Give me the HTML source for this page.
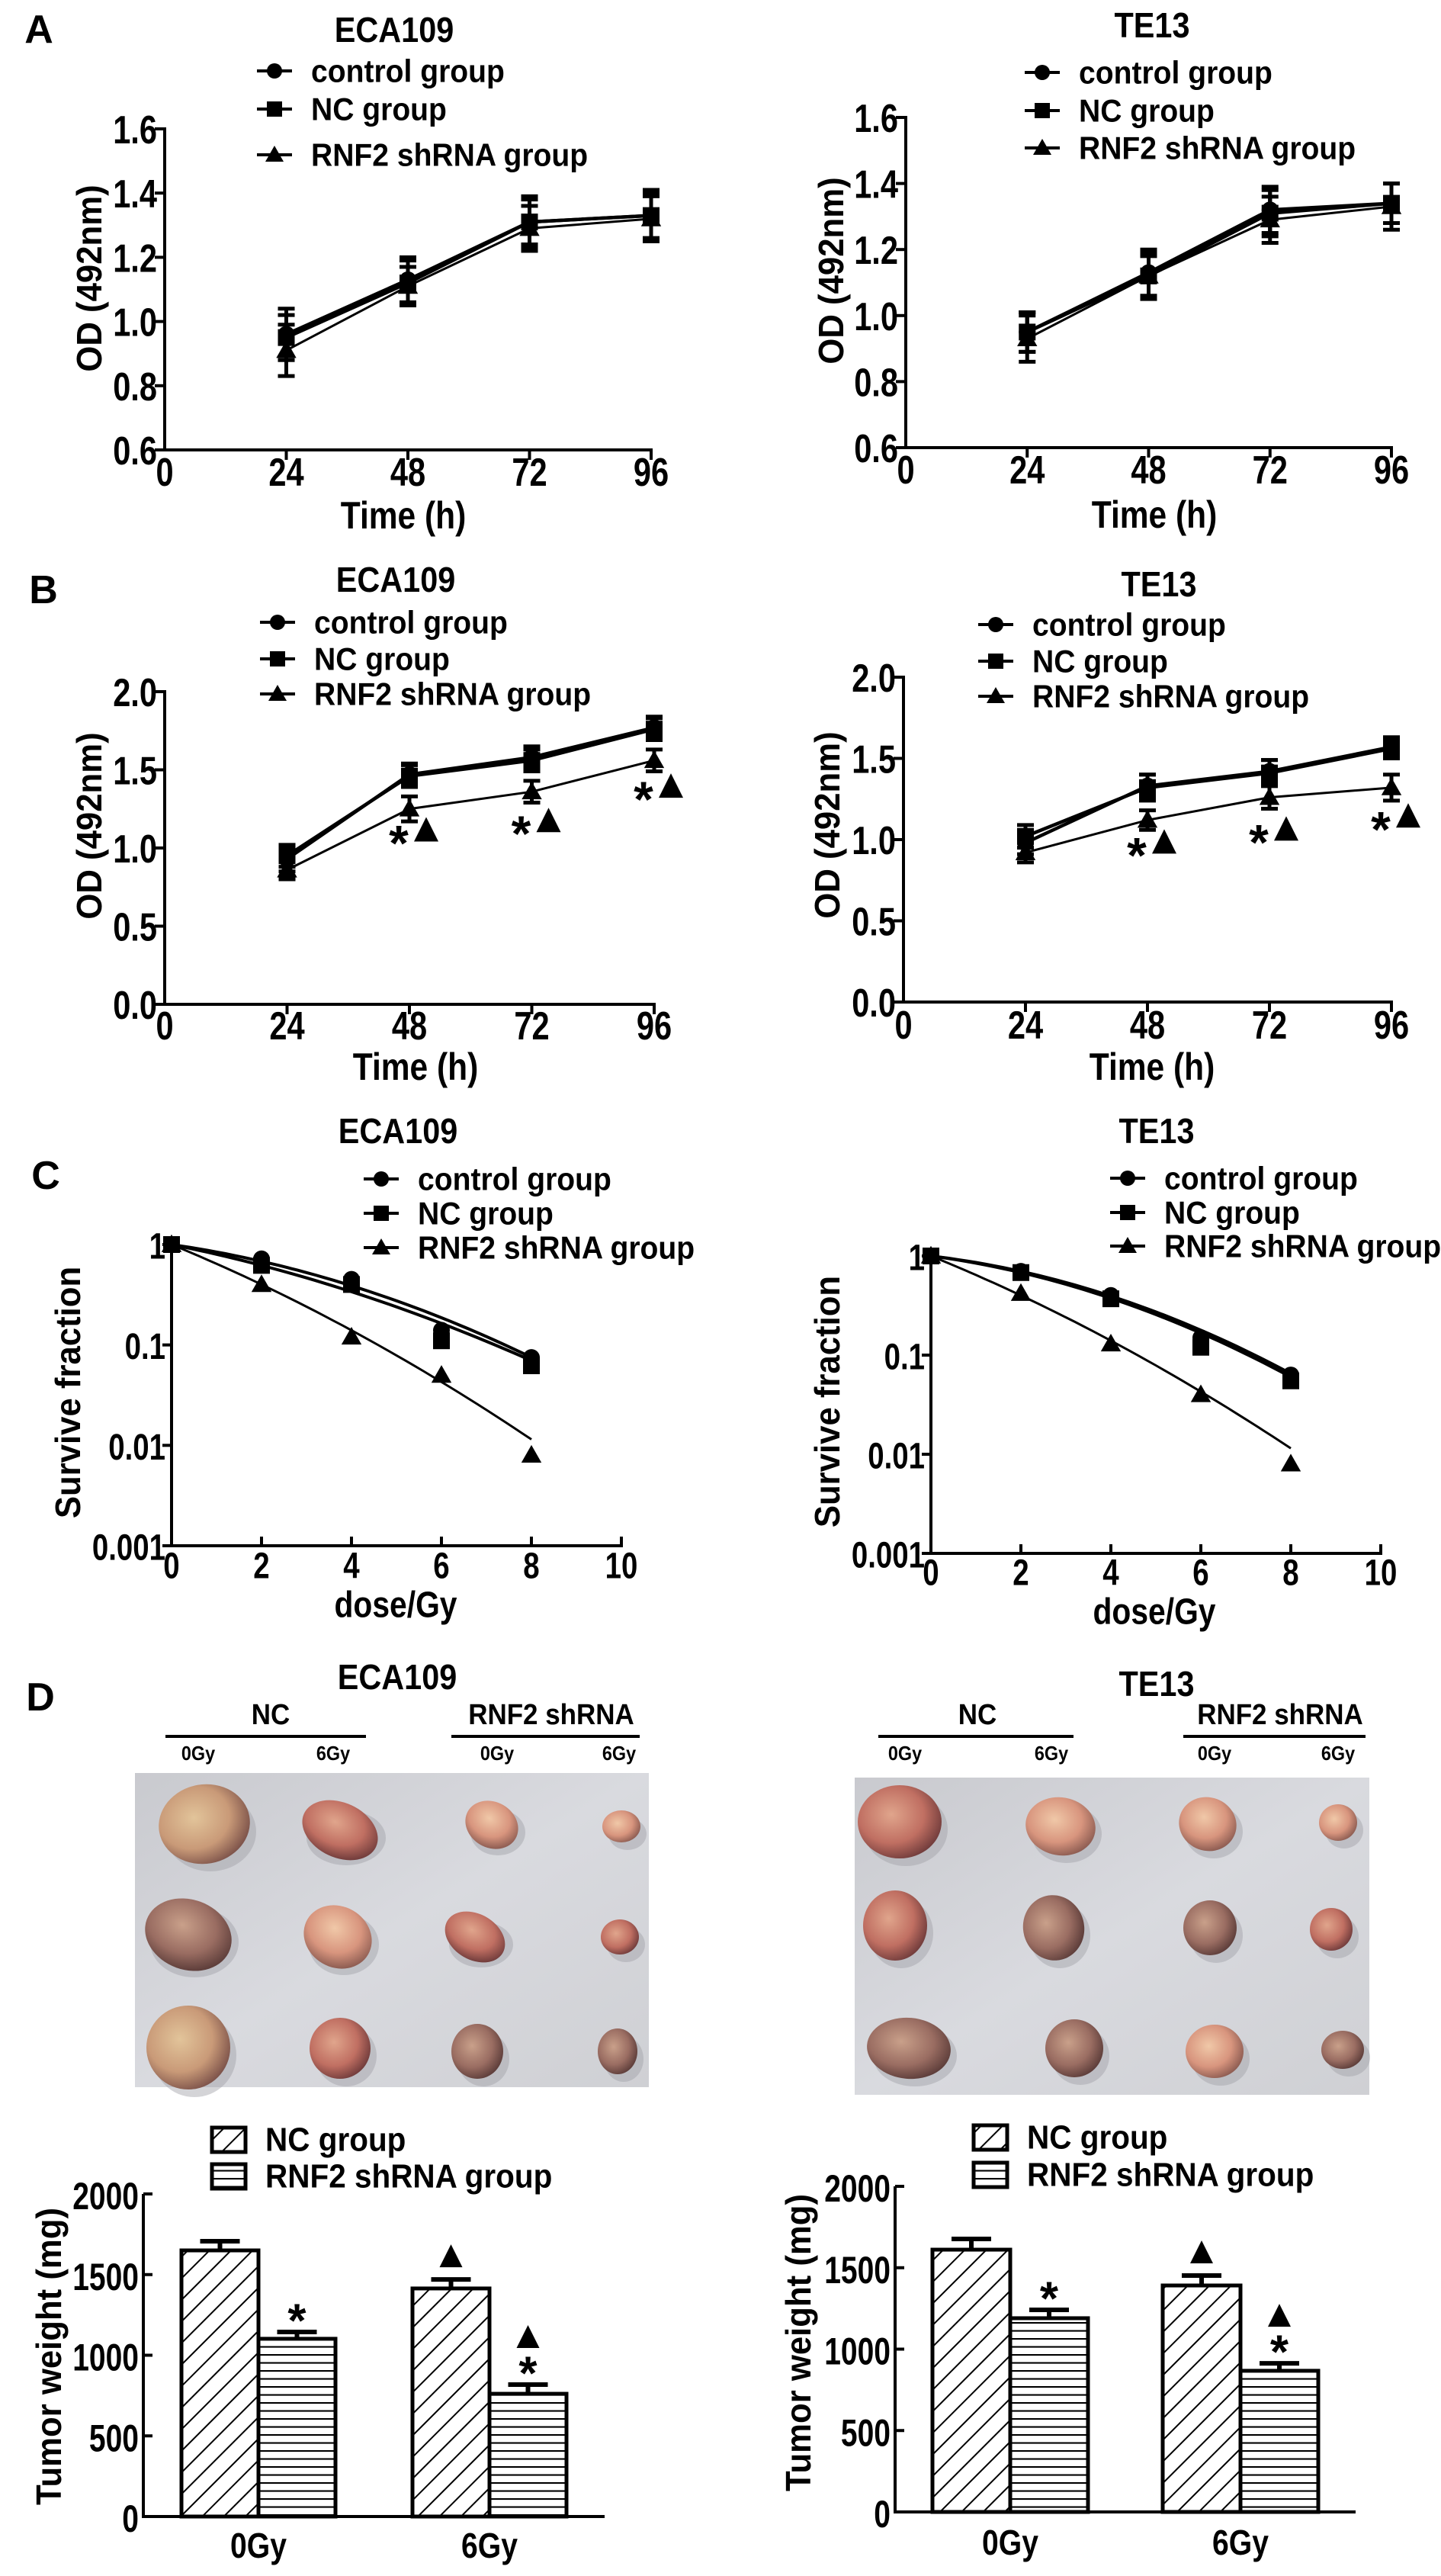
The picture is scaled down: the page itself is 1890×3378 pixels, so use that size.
<!DOCTYPE html>
<html><head><meta charset="utf-8"><style>
html,body{margin:0;padding:0;background:#fff;}
svg{display:block;}
text{font-family:"Liberation Sans",Arial,sans-serif;font-weight:bold;fill:#000;}
</style></head><body>
<svg id="fig" xmlns="http://www.w3.org/2000/svg" width="1890" height="3378" viewBox="0 0 1890 3378">
<defs>
<pattern id="hatchDiag" patternUnits="userSpaceOnUse" width="20" height="20" patternTransform="rotate(45)"><rect width="20" height="20" fill="#fff"/><line x1="0" y1="0" x2="0" y2="20" stroke="#000" stroke-width="4"/></pattern>
<pattern id="hatchHoriz" patternUnits="userSpaceOnUse" width="10" height="10.5"><rect width="10" height="10.5" fill="#fff"/><line x1="0" y1="1" x2="10" y2="1" stroke="#000" stroke-width="2.2"/></pattern>
<linearGradient id="photoBg" x1="0" y1="0" x2="1" y2="1"><stop offset="0" stop-color="#c9cacf"/><stop offset="0.5" stop-color="#d9dadf"/><stop offset="1" stop-color="#cfd0d4"/></linearGradient>
<radialGradient id="tTan" cx="0.4" cy="0.4" r="0.65"><stop offset="0" stop-color="#e2c49a"/><stop offset="0.6" stop-color="#c99a78"/><stop offset="1" stop-color="#7a5048"/></radialGradient>
<radialGradient id="tRed" cx="0.4" cy="0.4" r="0.65"><stop offset="0" stop-color="#e0a58c"/><stop offset="0.6" stop-color="#c06f62"/><stop offset="1" stop-color="#6e3a3a"/></radialGradient>
<radialGradient id="tBrown" cx="0.4" cy="0.4" r="0.65"><stop offset="0" stop-color="#c9a08a"/><stop offset="0.6" stop-color="#9a6d62"/><stop offset="1" stop-color="#5a3b38"/></radialGradient>
<radialGradient id="tPink" cx="0.4" cy="0.4" r="0.65"><stop offset="0" stop-color="#f0c8a8"/><stop offset="0.6" stop-color="#d8957e"/><stop offset="1" stop-color="#8a5a50"/></radialGradient>
</defs>
</svg>
<script>
// ---------- DATA ----------
const timeCats = [24, 48, 72, 96];
const timeTickVals = [0, 24, 48, 72, 96];
const timeTickLabels = ['0', '24', '48', '72', '96'];
const aTickVals = [0.6, 0.8, 1.0, 1.2, 1.4, 1.6];
const aTickLabels = ['0.6', '0.8', '1.0', '1.2', '1.4', '1.6'];
const bTickVals = [0, 0.5, 1.0, 1.5, 2.0];
const bTickLabels = ['0.0', '0.5', '1.0', '1.5', '2.0'];
const seriesNames = ['control group', 'NC group', 'RNF2 shRNA group'];

const aEcaControl = [0.96, 1.13, 1.31, 1.33];
const aEcaNC = [0.95, 1.12, 1.31, 1.33];
const aEcaSh = [0.91, 1.11, 1.29, 1.32];
const aEcaControlErr = [0.08, 0.07, 0.07, 0.08];
const aEcaNCErr = [0.07, 0.07, 0.08, 0.07];
const aEcaShErr = [0.08, 0.06, 0.07, 0.07];

const aTeControl = [0.95, 1.13, 1.32, 1.34];
const aTeNC = [0.95, 1.12, 1.31, 1.34];
const aTeSh = [0.93, 1.12, 1.29, 1.33];
const aTeControlErr = [0.06, 0.07, 0.07, 0.06];
const aTeNCErr = [0.06, 0.07, 0.07, 0.06];
const aTeShErr = [0.07, 0.06, 0.07, 0.07];

const bEcaControl = [0.93, 1.47, 1.58, 1.77];
const bEcaNC = [0.95, 1.46, 1.56, 1.76];
const bEcaSh = [0.86, 1.25, 1.36, 1.56];
const bEcaControlErr = [0.08, 0.07, 0.07, 0.07];
const bEcaNCErr = [0.07, 0.07, 0.07, 0.07];
const bEcaShErr = [0.06, 0.08, 0.07, 0.07];
const bEcaAnnotY = [1.10, 1.16, 1.38];

const bTeControl = [0.98, 1.33, 1.42, 1.57];
const bTeNC = [1.02, 1.32, 1.41, 1.56];
const bTeSh = [0.92, 1.12, 1.26, 1.32];
const bTeControlErr = [0.07, 0.07, 0.07, 0.06];
const bTeNCErr = [0.07, 0.08, 0.08, 0.06];
const bTeShErr = [0.06, 0.06, 0.07, 0.08];
const bTeAnnotY = [0.97, 1.05, 1.13];
const annotTimes = [48, 72, 96];

const doses = [0, 2, 4, 6, 8];
const doseTickVals = [0, 2, 4, 6, 8, 10];
const doseTickLabels = ['0', '2', '4', '6', '8', '10'];
const logTickVals = [1, 0.1, 0.01, 0.001];
const logTickLabels = ['1', '0.1', '0.01', '0.001'];
const cEcaControl = [1, 0.72, 0.45, 0.14, 0.075];
const cEcaNC = [1, 0.62, 0.40, 0.11, 0.062];
const cEcaSh = [1, 0.40, 0.12, 0.05, 0.008];
const cEcaAlpha = [0.149, 0.208, 0.425];
const cEcaBeta = [0.0218, 0.0156, 0.0167];
const cTeControl = [1, 0.70, 0.40, 0.15, 0.063];
const cTeNC = [1, 0.68, 0.37, 0.12, 0.055];
const cTeSh = [1, 0.42, 0.13, 0.04, 0.008];
const cTeAlpha = [0.124, 0.140, 0.425];
const cTeBeta = [0.0272, 0.0264, 0.0167];

const barCats = ['0Gy', '6Gy'];
const barTickVals = [0, 500, 1000, 1500, 2000];
const barTickLabels = ['0', '500', '1000', '1500', '2000'];
const dEcaNC = [1650, 1414];
const dEcaNCErr = [57, 56];
const dEcaSh = [1102, 761];
const dEcaShErr = [42, 57];
const dTeNC = [1611, 1391];
const dTeNCErr = [66, 61];
const dTeSh = [1190, 867];
const dTeShErr = [51, 46];

// ---------- HELPERS ----------
const NS = 'http://www.w3.org/2000/svg';
const svg = document.getElementById('fig');
function mk(tag, a, parent) {
  const e = document.createElementNS(NS, tag);
  for (const k in a) e.setAttribute(k, a[k]);
  (parent || svg).appendChild(e);
  return e;
}
function txt(s, x, y, fs, anchor, parent, narrowF) {
  const e = mk('text', {x: x, y: y, 'font-size': fs, 'text-anchor': anchor || 'start', 'dominant-baseline': 'central'}, parent);
  e.textContent = s;
  if (narrowF && narrowF !== 1) {
    const w = e.getComputedTextLength();
    if (w > 0) { e.setAttribute('textLength', (w * narrowF).toFixed(1)); e.setAttribute('lengthAdjust', 'spacingAndGlyphs'); }
  }
  return e;
}
function marker(kind, x, y, s, parent) {
  let e;
  if (kind === 0) e = mk('circle', {cx: x, cy: y, r: s * 0.5, fill: '#000'}, parent);
  else if (kind === 1) e = mk('rect', {x: x - s * 0.5, y: y - s * 0.5, width: s, height: s, fill: '#000'}, parent);
  else e = mk('polygon', {points: `${x},${y - s * 0.6} ${x - s * 0.6},${y + s * 0.45} ${x + s * 0.6},${y + s * 0.45}`, fill: '#000'}, parent);
  return e;
}
function legend(x, ys, names, parent, fs) {
  names.forEach((n, i) => {
    const ln = mk('line', {x1: x - 23, y1: ys[i], x2: x + 23, y2: ys[i], stroke: '#000', 'stroke-width': 4}, parent);
    
    
    const m = marker(i, x, ys[i], 20, parent);
    
    
    const t = txt(n, x + 48, ys[i], fs || 42, 'start', parent, 0.93);
    
    
  });
}

function lineChart(c) {
  const g = mk('g', {});
  
  
  const sx = t => c.ax + t / 96 * (c.x96 - c.ax);
  const sy = v => c.yBot - (v - c.yMin) / (c.yMax - c.yMin) * (c.yBot - c.yTop);
  const t1 = txt(c.title, c.titleX, c.titleY, 46, 'middle', g, 0.9);
  
  
  legend(c.legX, c.legY, c.legNames || seriesNames, g);
  const ya = mk('line', {x1: c.ax, y1: c.yTop - 2, x2: c.ax, y2: c.yBot, stroke: '#000', 'stroke-width': 4}, g);
  
  
  const xa = mk('line', {x1: c.ax - 2, y1: c.yBot, x2: c.x96 + 2, y2: c.yBot, stroke: '#000', 'stroke-width': 4}, g);
  
  
  c.yTicks.forEach((v, i) => {
    const tk = mk('line', {x1: c.ax - 13, y1: sy(v), x2: c.ax, y2: sy(v), stroke: '#000', 'stroke-width': 4}, g);
    
    
    const tl = txt(c.yLabels[i], c.ax - 10, sy(v) + 2, 52, 'end', g, 0.8);
    
    
  });
  timeTickVals.forEach((v, i) => {
    if (v > 0) {
      const tk = mk('line', {x1: sx(v), y1: c.yBot, x2: sx(v), y2: c.yBot + 13, stroke: '#000', 'stroke-width': 4}, g);
      
      
    }
    const tl = txt(timeTickLabels[i], sx(v), c.xLabY, 52, 'middle', g, 0.8);
    
    
  });
  const xt = txt('Time  (h)', c.xTitleX, c.xTitleY, 50, 'middle', g, 0.85);
  
  
  const yt = txt('OD  (492nm)', c.yTitleX, c.yTitleY, 46, 'middle', g, 0.95);
  yt.setAttribute('transform', `rotate(-90 ${c.yTitleX} ${c.yTitleY})`);
  
  
  c.series.forEach((s, si) => {
    const pts = timeCats.map((t, i) => `${sx(t)},${sy(s.vals[i])}`).join(' ');
    const pl = mk('polyline', {points: pts, fill: 'none', stroke: '#000', 'stroke-width': si === 2 ? 3 : 4.5}, g);
    
    
    timeCats.forEach((t, i) => {
      const x = sx(t), y1 = sy(s.vals[i] + s.errs[i]), y2 = sy(s.vals[i] - s.errs[i]);
      const eb = mk('path', {d: `M${x},${y1}V${y2}M${x - 11},${y1}H${x + 11}M${x - 11},${y2}H${x + 11}`, stroke: '#000', 'stroke-width': 5, fill: 'none'}, g);
      
      
      const m = marker(si, x, sy(s.vals[i]), 22, g);
      
      
    });
  });
  if (c.annotY) {
    c.annotY.forEach((v, i) => {
      const x = sx(annotTimes[i]), y = sy(v);
      const st = txt('*', x - 14, y + 14, 66, 'middle', g);
      
      
      const tr = mk('polygon', {points: `${x + 22},${y - 20} ${x + 6},${y + 12} ${x + 38},${y + 12}`, fill: '#000'}, g);
      
      
    });
  }
}

function logChart(c) {
  const g = mk('g', {});
  
  
  const sx = d => c.ax + d / 10 * (c.x10 - c.ax);
  const sy = v => c.y1 + (-Math.log10(v)) / 3 * (c.yBot - c.y1);
  const t1 = txt(c.title, c.titleX, c.titleY, 46, 'middle', g, 0.9);
  
  
  legend(c.legX, c.legY, seriesNames, g);
  const ya = mk('line', {x1: c.ax, y1: c.y1, x2: c.ax, y2: c.yBot, stroke: '#000', 'stroke-width': 4}, g);
  
  
  const xa = mk('line', {x1: c.ax - 2, y1: c.yBot, x2: c.x10 + 2, y2: c.yBot, stroke: '#000', 'stroke-width': 4}, g);
  
  
  logTickVals.forEach((v, i) => {
    const tk = mk('line', {x1: c.ax - 12, y1: sy(v), x2: c.ax, y2: sy(v), stroke: '#000', 'stroke-width': 4}, g);
    
    
    const tl = txt(logTickLabels[i], c.ax - 8, sy(v) + 3, 48, 'end', g, 0.8);
    
    
  });
  doseTickVals.forEach((v, i) => {
    if (v > 0) {
      const tk = mk('line', {x1: sx(v), y1: c.yBot - 12, x2: sx(v), y2: c.yBot, stroke: '#000', 'stroke-width': 4}, g);
      
      
    }
    const tl = txt(doseTickLabels[i], sx(v), c.xLabY, 48, 'middle', g, 0.8);
    
    
  });
  const xt = txt('dose/Gy', c.xTitleX, c.xTitleY, 48, 'middle', g, 0.85);
  
  
  const yt = txt('Survive fraction', c.yTitleX, c.yTitleY, 46, 'middle', g, 0.95);
  yt.setAttribute('transform', `rotate(-90 ${c.yTitleX} ${c.yTitleY})`);
  
  
  c.series.forEach((s, si) => {
    let d = '';
    for (let k = 0; k <= 40; k++) {
      const dose = k * 0.2;
      const v = Math.exp(-(c.alpha[si] * dose + c.beta[si] * dose * dose));
      d += (k ? 'L' : 'M') + sx(dose).toFixed(1) + ',' + sy(v).toFixed(1);
    }
    const fit = mk('path', {d: d, fill: 'none', stroke: '#000', 'stroke-width': si === 2 ? 3 : 4}, g);
    
    
    doses.forEach((dv, i) => {
      const m = marker(si, sx(dv), sy(s[i]), 22, g);
      
      
    });
  });
}

function barChart(c) {
  const g = mk('g', {});
  
  
  const sy = v => c.yBot - v / 2000 * (c.yBot - c.yTop);
  const fills = ['url(#hatchDiag)', 'url(#hatchHoriz)'];
  ['NC group', 'RNF2 shRNA group'].forEach((n, i) => {
    const b = mk('rect', {x: c.legX, y: c.legY[i] - 16, width: 44, height: 32, fill: fills[i], stroke: '#000', 'stroke-width': 5}, g);
    
    
    const t = txt(n, c.legX + 70, c.legY[i], 44, 'start', g, 0.92);
    
    
  });
  const ya = mk('line', {x1: c.ax, y1: c.yTop, x2: c.ax, y2: c.yBot, stroke: '#000', 'stroke-width': 4}, g);
  
  
  const xa = mk('line', {x1: c.ax - 2, y1: c.yBot, x2: c.xEnd, y2: c.yBot, stroke: '#000', 'stroke-width': 4}, g);
  
  
  barTickVals.forEach((v, i) => {
    const tk = mk('line', {x1: c.ax, y1: sy(v), x2: c.ax + 12, y2: sy(v), stroke: '#000', 'stroke-width': 4}, g);
    
    
    const tl = txt(barTickLabels[i], c.ax - 6, sy(v) + 3, 50, 'end', g, 0.78);
    
    
  });
  const yt = txt('Tumor weight (mg)', c.yTitleX, c.yTitleY, 46, 'middle', g, 0.95);
  yt.setAttribute('transform', `rotate(-90 ${c.yTitleX} ${c.yTitleY})`);
  
  
  barCats.forEach((cat, i) => {
    const cx = c.groupX[i];
    [[c.nc, c.ncErr], [c.sh, c.shErr]].forEach((pair, j) => {
      const v = pair[0][i], e = pair[1][i];
      const x = j === 0 ? cx - c.bw : cx;
      const bar = mk('rect', {x: x, y: sy(v), width: c.bw, height: c.yBot - sy(v), fill: fills[j], stroke: '#000', 'stroke-width': 5}, g);
      
      
      const mx = x + c.bw / 2;
      const eb = mk('path', {d: `M${mx},${sy(v)}V${sy(v + e)}M${mx - 26},${sy(v + e)}H${mx + 26}`, stroke: '#000', 'stroke-width': 6, fill: 'none'}, g);
      
      
      const top = sy(v + e);
      const star = j === 1;
      const tri = i === 1;
      if (star) {
        const st = txt('*', mx, top - 14, 62, 'middle', g);
        
        
      }
      if (tri) {
        const ty = star ? top - 62 : top - 30;
        const tr = mk('polygon', {points: `${mx},${ty - 16} ${mx - 15},${ty + 14} ${mx + 15},${ty + 14}`, fill: '#000'}, g);
        
        
      }
    });
    const cl = txt(cat, cx, c.xLabY, 46, 'middle', g, 0.85);
    
    
  });
}

function photoPanel(c) {
  const g = mk('g', {});
  
  
  const t1 = txt(c.title, c.titleX, c.titleY, 46, 'middle', g, 0.9);
  
  
  c.groups.forEach(gr => {
    const gl = txt(gr.label, gr.cx, 2249, 38, 'middle', g, 0.92);
    
    
    const ln = mk('line', {x1: gr.x1, y1: 2277, x2: gr.x2, y2: 2277, stroke: '#000', 'stroke-width': 4}, g);
    
    
    const a = txt('0Gy', gr.s0, 2299, 26, 'middle', g, 0.9);
    
    
    const b = txt('6Gy', gr.s6, 2299, 26, 'middle', g, 0.9);
    
    
  });
  const bg = mk('rect', {x: c.px, y: c.py, width: c.pw, height: c.ph, fill: 'url(#photoBg)'}, g);
  
  
  c.tumors.forEach(t => {
    const sh = mk('ellipse', {cx: t[0] + 8, cy: t[1] + 10, rx: t[2], ry: t[3], fill: '#9fa0a6', opacity: 0.45}, g);
    
    
    const e = mk('ellipse', {cx: t[0], cy: t[1], rx: t[2], ry: t[3], fill: 'url(#' + t[4] + ')', transform: `rotate(${t[5]} ${t[0]} ${t[1]})`}, g);
    
    
  });
}

// ---------- PANEL LETTERS ----------
[['A', 51, 39], ['B', 57, 774], ['C', 60, 1542], ['D', 53, 2226]].forEach(p => {
  const l = txt(p[0], p[1], p[2], 52, 'middle');
  
  
});

// ---------- PANEL A ----------
lineChart({name: 'chart-a-eca109', title: 'ECA109', titleX: 517, titleY: 39, legX: 360, legY: [93, 143, 203],
  ax: 216, x96: 854, yTop: 169, yBot: 590, yMin: 0.6, yMax: 1.6, yTicks: aTickVals, yLabels: aTickLabels,
  xLabY: 620, xTitleX: 529, xTitleY: 676, yTitleX: 117, yTitleY: 365,
  series: [{vals: aEcaControl, errs: aEcaControlErr}, {vals: aEcaNC, errs: aEcaNCErr}, {vals: aEcaSh, errs: aEcaShErr}]});
lineChart({name: 'chart-a-te13', title: 'TE13', titleX: 1511, titleY: 33, legX: 1367, legY: [95, 145, 194],
  ax: 1188, x96: 1825, yTop: 154, yBot: 587, yMin: 0.6, yMax: 1.6, yTicks: aTickVals, yLabels: aTickLabels,
  xLabY: 617, xTitleX: 1514, xTitleY: 675, yTitleX: 1090, yTitleY: 355,
  series: [{vals: aTeControl, errs: aTeControlErr}, {vals: aTeNC, errs: aTeNCErr}, {vals: aTeSh, errs: aTeShErr}]});

// ---------- PANEL B ----------
lineChart({name: 'chart-b-eca109', title: 'ECA109', titleX: 519, titleY: 760, legX: 364, legY: [816, 864, 910],
  legNames: ['control group', 'NC group', 'RNF2  shRNA group'],
  ax: 216, x96: 858, yTop: 907, yBot: 1317, yMin: 0, yMax: 2.0, yTicks: bTickVals, yLabels: bTickLabels,
  xLabY: 1346, xTitleX: 545, xTitleY: 1399, yTitleX: 117, yTitleY: 1083, annotY: bEcaAnnotY,
  series: [{vals: bEcaControl, errs: bEcaControlErr}, {vals: bEcaNC, errs: bEcaNCErr}, {vals: bEcaSh, errs: bEcaShErr}]});
lineChart({name: 'chart-b-te13', title: 'TE13', titleX: 1520, titleY: 766, legX: 1306, legY: [819, 867, 913],
  ax: 1185, x96: 1825, yTop: 888, yBot: 1314, yMin: 0, yMax: 2.0, yTicks: bTickVals, yLabels: bTickLabels,
  xLabY: 1345, xTitleX: 1511, xTitleY: 1399, yTitleX: 1085, yTitleY: 1082, annotY: bTeAnnotY,
  series: [{vals: bTeControl, errs: bTeControlErr}, {vals: bTeNC, errs: bTeNCErr}, {vals: bTeSh, errs: bTeShErr}]});

// ---------- PANEL C ----------
logChart({name: 'chart-c-eca109', title: 'ECA109', titleX: 522, titleY: 1483, legX: 500, legY: [1546, 1591, 1636],
  ax: 225, x10: 815, y1: 1632, yBot: 2027, xLabY: 2054, xTitleX: 519, xTitleY: 2105, yTitleX: 89, yTitleY: 1826,
  alpha: cEcaAlpha, beta: cEcaBeta, series: [cEcaControl, cEcaNC, cEcaSh]});
logChart({name: 'chart-c-te13', title: 'TE13', titleX: 1517, titleY: 1483, legX: 1479, legY: [1545, 1590, 1634],
  ax: 1221, x10: 1811, y1: 1647, yBot: 2037, xLabY: 2063, xTitleX: 1514, xTitleY: 2114, yTitleX: 1085, yTitleY: 1838,
  alpha: cTeAlpha, beta: cTeBeta, series: [cTeControl, cTeNC, cTeSh]});

// ---------- PANEL D PHOTOS ----------
photoPanel({name: 'photo-panel-eca109', title: 'ECA109', titleX: 521, titleY: 2199,
  groups: [{label: 'NC', cx: 355, x1: 217, x2: 480, s0: 260, s6: 437}, {label: 'RNF2 shRNA', cx: 723, x1: 592, x2: 839, s0: 652, s6: 812}],
  px: 177, py: 2325, pw: 674, ph: 412,
  tumors: [[268, 2392, 60, 52, 'tTan', -10], [446, 2400, 52, 36, 'tRed', 25], [645, 2393, 36, 30, 'tPink', 30], [815, 2395, 25, 21, 'tPink', 0],
           [247, 2537, 58, 46, 'tBrown', 20], [443, 2540, 46, 40, 'tPink', 30], [623, 2540, 42, 30, 'tRed', 30], [813, 2540, 25, 23, 'tRed', 0],
           [247, 2685, 55, 55, 'tTan', 0], [446, 2686, 40, 40, 'tRed', 0], [626, 2690, 34, 36, 'tBrown', 0], [810, 2690, 26, 30, 'tBrown', 0]]});
photoPanel({name: 'photo-panel-te13', title: 'TE13', titleX: 1517, titleY: 2208,
  groups: [{label: 'NC', cx: 1282, x1: 1152, x2: 1408, s0: 1187, s6: 1379}, {label: 'RNF2 shRNA', cx: 1679, x1: 1552, x2: 1791, s0: 1593, s6: 1755}],
  px: 1121, py: 2331, pw: 675, ph: 416,
  tumors: [[1180, 2389, 55, 48, 'tRed', 0], [1391, 2395, 46, 38, 'tPink', 10], [1584, 2392, 38, 35, 'tPink', 20], [1755, 2390, 25, 24, 'tPink', 0],
           [1174, 2525, 42, 46, 'tRed', 0], [1382, 2528, 40, 43, 'tBrown', -15], [1587, 2528, 35, 36, 'tBrown', 0], [1746, 2530, 28, 28, 'tRed', 0],
           [1192, 2686, 55, 40, 'tBrown', 5], [1409, 2686, 38, 38, 'tBrown', 0], [1593, 2690, 38, 35, 'tPink', 0], [1761, 2688, 28, 25, 'tBrown', 0]]});

// ---------- PANEL D BARS ----------
barChart({name: 'chart-d-eca109-bars', ax: 188, yTop: 2877, yBot: 3300, xEnd: 793, groupX: [339, 642], bw: 101,
  legX: 278, legY: [2806, 2854], yTitleX: 64, yTitleY: 3090, xLabY: 3338,
  nc: dEcaNC, ncErr: dEcaNCErr, sh: dEcaSh, shErr: dEcaShErr});
barChart({name: 'chart-d-te13-bars', ax: 1174, yTop: 2867, yBot: 3294, xEnd: 1778, groupX: [1325, 1627], bw: 102,
  legX: 1277, legY: [2803, 2852], yTitleX: 1047, yTitleY: 3072, xLabY: 3334,
  nc: dTeNC, ncErr: dTeNCErr, sh: dTeSh, shErr: dTeShErr});
</script>
</body></html>
